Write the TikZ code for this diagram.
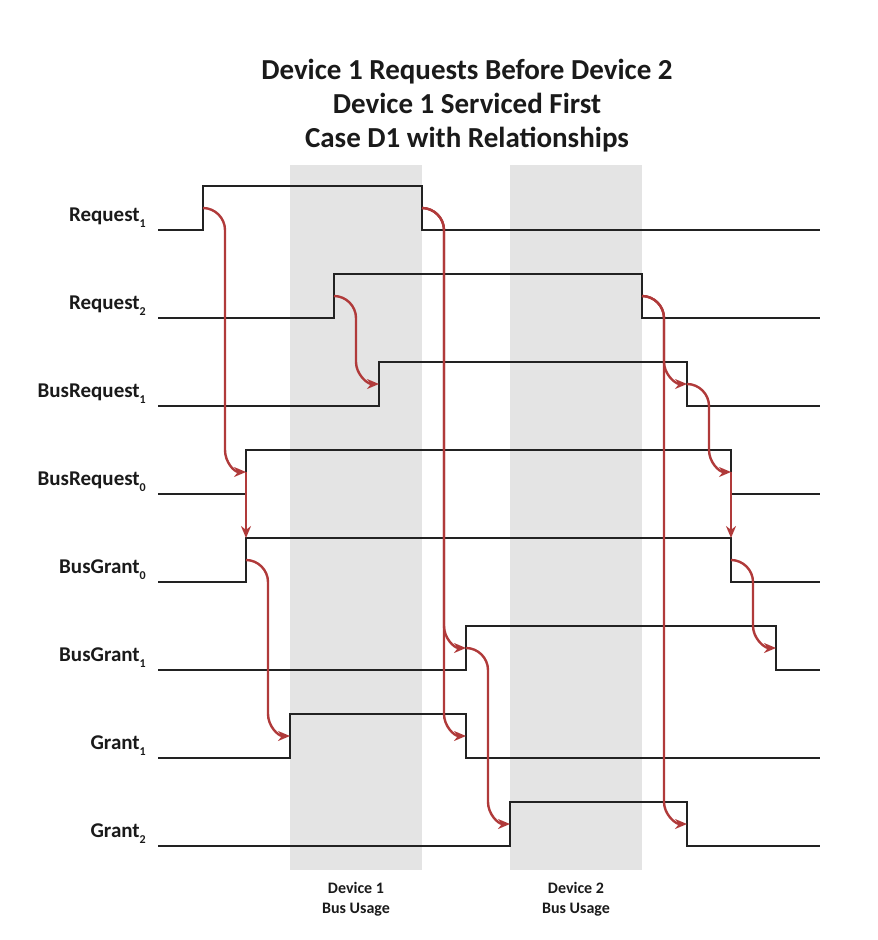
\documentclass[tikz,border=0pt]{standalone}
\usepackage{fontspec}
\setmainfont{Carlito}
\usepackage{xcolor}
\usepackage{tikz}
\usetikzlibrary{positioning, arrows.meta, calc}
\definecolor{fg}{HTML}{1A1A1A}
\definecolor{wave}{HTML}{222222}
\definecolor{rel}{HTML}{B03A3A}
\definecolor{band}{HTML}{E4E4E4}
\newcommand{\lowsub}[1]{\raisebox{-6pt}{\fontsize{12}{12}\selectfont #1}}
\tikzset{
  sigline/.style={draw=wave, line width=2.7pt},
  relarrow/.style={draw=rel, line width=2.4pt,
    -{Stealth[length=12pt, width=10pt]}},
  relto/.style={to path={
    .. controls +(12,0) and +(0,-12) .. ++(22,22) coordinate (bend)
    -- ($(bend |- \tikztotarget)+(0,-22)$)
    .. controls +(0,12) and +(-12,0) .. (\tikztotarget)}},
  siglabel/.style={anchor=base east, text=fg, inner sep=0pt,
    font=\fontsize{21}{24}\selectfont\bfseries},
  usage/.style={text=fg, inner sep=0pt, align=center,
    font=\fontsize{16}{20}\selectfont\bfseries},
}

\begin{document}
\begin{tikzpicture}[x=1pt, y=-1pt]
  \useasboundingbox (0,0) rectangle (878,940);
  % bus usage windows
  \fill[band] (290,165) rectangle (422,870);
  \fill[band] (510,165) rectangle (642,870);
  \node[usage] (use1) at (356,899) {Device 1\\Bus Usage};
  \node[usage] (use2) at (576,899) {Device 2\\Bus Usage};

  \node[text=fg, align=center, inner sep=0pt,
        font=\fontsize{29}{34}\selectfont\bfseries] (ttl) at (467,106) {
    Device 1 Requests Before Device 2\\
    Device 1 Serviced First\\
    Case D1 with Relationships
  };

  % signals: name / label / subscript / low level / rise / fall
  \foreach \nm/\lbl/\sb/\y/\a/\b in {
      req1/Request/1/230/203/422,
      req2/Request/2/318/334/642,
      breq1/BusRequest/1/406/379/687,
      breq0/BusRequest/0/494/246/731,
      bgnt0/BusGrant/0/582/246/731,
      bgnt1/BusGrant/1/670/466/776,
      gnt1/Grant/1/758/290/466,
      gnt2/Grant/2/846/510/687}{
    \node[siglabel] (\nm lab) at (146,\y-9) {\lbl\lowsub{\sb}};
    \draw[sigline] (158,\y) -| (\a,\y-44) -| (\b,\y) -- (820,\y);
    \coordinate (\nm r) at (\a,\y-22);
    \coordinate (\nm f) at (\b,\y-22);
    \coordinate (\nm rt) at (\a,\y-44);
    \coordinate (\nm ft) at (\b,\y-44);
  }

  % relationships
  \draw[relarrow] (req1r) to[relto] (breq0r);
  \draw[relarrow] (breq0r) -- (bgnt0rt);
  \draw[relarrow] (req1f) to[relto] (bgnt1r);
  \draw[relarrow] (req1f) to[relto] (gnt1f);
  \draw[relarrow] (req2r) to[relto] (breq1r);
  \draw[relarrow] (req2f) to[relto] (breq1f);
  \draw[relarrow] (req2f) to[relto] (gnt2f);
  \draw[relarrow] (breq1f) to[relto] (breq0f);
  \draw[relarrow] (breq0f) -- (bgnt0ft);
  \draw[relarrow] (bgnt0r) to[relto] (gnt1r);
  \draw[relarrow] (bgnt1r) to[relto] (gnt2r);
  \draw[relarrow] (bgnt0f) to[relto] (bgnt1f);
\end{tikzpicture}
\end{document}
